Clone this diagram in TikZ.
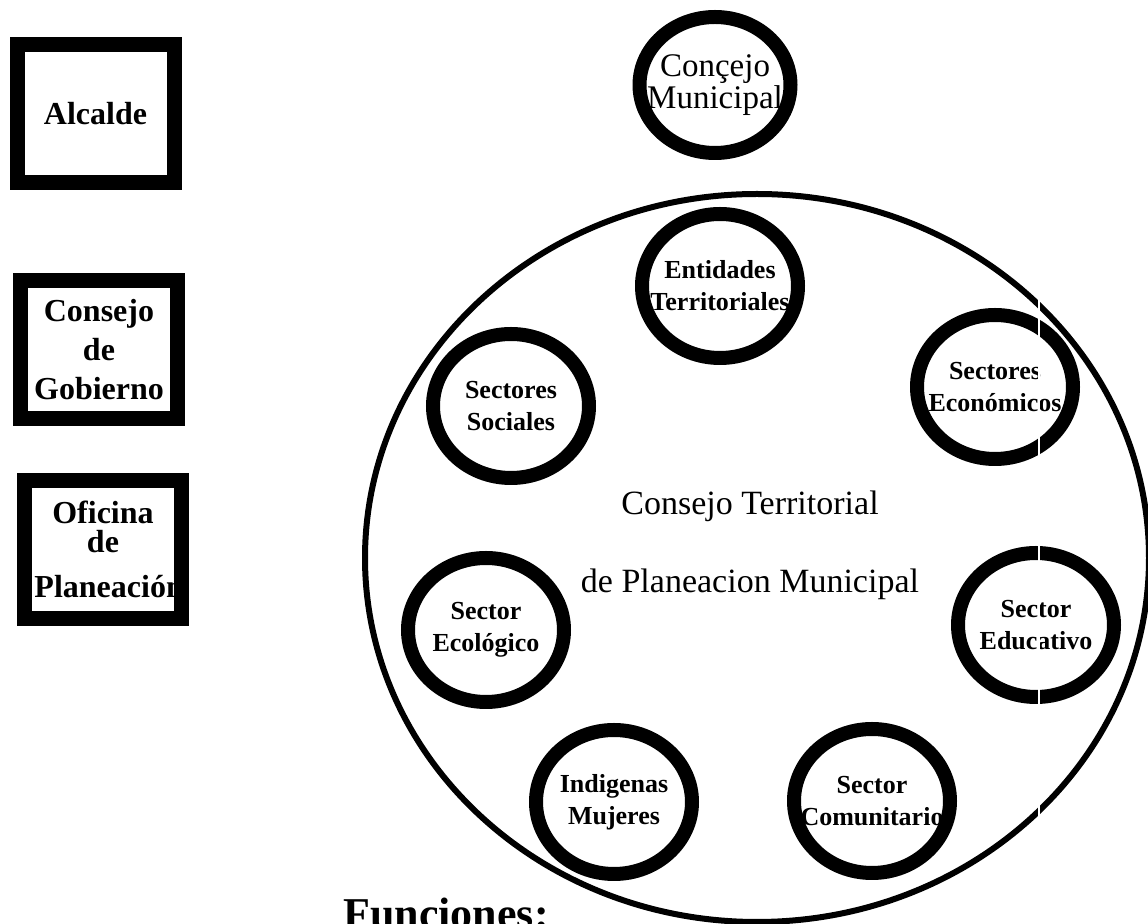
\documentclass[tikz,border=0pt]{standalone}
\usepackage{fontspec}
\setmainfont{Liberation Serif}
\usetikzlibrary{shapes.geometric}
\newlength{\du}
\setlength{\du}{0.5pt}

\begin{document}
\begin{tikzpicture}[
  boxtxt/.style={inner sep=0pt, outer sep=0pt, text width=157\du, minimum height=138\du, align=center, font=\bfseries\fontsize{32\du}{39\du}\selectfont},
  boxframe/.style={draw=dialinecolor, line width=15\du},
  ring/.style={ellipse, draw=dialinecolor, line width=14\du, minimum width=156\du, minimum height=144\du, inner xsep=-25\du, inner ysep=-10\du, align=center, font=\bfseries\fontsize{26\du}{32\du}\selectfont},
  bigring/.style={ellipse, draw=dialinecolor, line width=6\du, minimum width=784\du, minimum height=728\du},
  ctptext/.style={anchor=base, font=\fontsize{34\du}{40\du}\selectfont}
]
\pgftransformxscale{1.000000}
\pgftransformyscale{-1.000000}
\definecolor{dialinecolor}{rgb}{0.000000, 0.000000, 0.000000}
\useasboundingbox (0\du,0\du) rectangle (1148\du,924\du);
% cajas
\node[boxtxt] (alcalde) at (95.5\du,114\du){Alcalde};
\node[boxtxt] (gobierno) at (99\du,350\du){Consejo\\de\\Gobierno};
\node[boxtxt] (oficina) at (103\du,549.5\du){Oficina\\[-10\du]de\\[6\du]\hspace*{10\du}Planeación};
\draw[boxframe] (alcalde.south west) rectangle (alcalde.north east);
\draw[boxframe] (gobierno.south west) rectangle (gobierno.north east);
\draw[boxframe] (oficina.south west) rectangle (oficina.north east);
% circulos
\node[ring, minimum width=151\du, minimum height=136\du, font=\fontsize{33\du}{25\du}\selectfont] (concejo) at (715\du,85\du){Conçejo\\Municipal};
\node[bigring] (ctpm) at (757\du,558\du){};
\node[ring] (entidades) at (720\du,286\du){Entidades\\Territoriales};
\node[ring] (sociales) at (511\du,406\du){Sectores\\Sociales};
\node[ring] (economicos) at (995\du,387\du){Sectores\\Económicos};
\node[ring] (ecologico) at (486\du,630\du){Sector\\Ecológico};
\node[ring] (educativo) at (1036\du,625\du){Sector\\Educativo};
\node[ring] (indigenas) at (614\du,802\du){Indigenas\\Mujeres};
\node[ring] (comunitario) at (872\du,801\du){Sector\\Comunitario};
% setfont left to latex
\node[ctptext] (ctpsup) at (750\du,515\du){Consejo Territorial};
\node[ctptext] (ctpinf) at (750\du,593\du){de Planeacion Municipal};
\node[anchor=base west, inner sep=0pt, font=\bfseries\fontsize{44\du}{50\du}\selectfont] (funciones) at (343\du,929\du){Funciones:};
% was here!!!
\draw[white, line width=2\du] (1039\du,285\du)--(1039\du,845\du);
\end{tikzpicture}
\end{document}
